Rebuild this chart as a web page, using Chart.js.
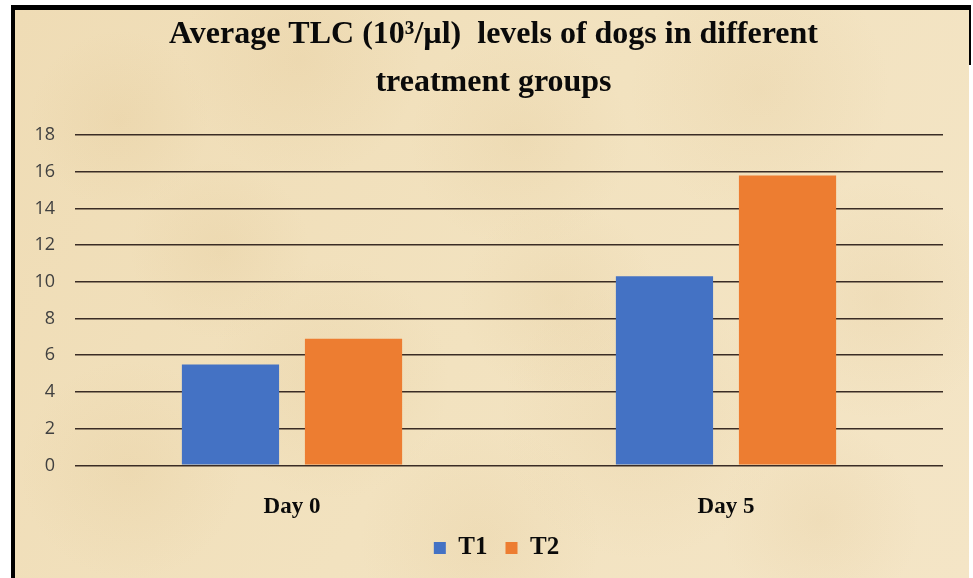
<!DOCTYPE html>
<html>
<head>
<meta charset="utf-8">
<script src="https://cdn.jsdelivr.net/npm/chart.js@4"></script>
<style>
  html, body { margin: 0; padding: 0; background: #ffffff; }
  #wrap { position: absolute; left: 0; top: 0; width: 973px; height: 578px; }
</style>
</head>
<body>
<div id="wrap"><canvas id="c" width="973" height="578"></canvas></div>
<script>
const categories = ["Day 0", "Day 5"];
const seriesNames = ["T1", "T2"];
const t1Values = [5.5, 10.3];
const t2Values = [6.9, 15.8];
const yTicks = [0, 2, 4, 6, 8, 10, 12, 14, 16, 18];
const titleLines = ["Average TLC (10\u00B3/\u00B5l)  levels of dogs in different", "treatment groups"];

const parchment = {
  id: 'parchment',
  beforeDraw(chart) {
    const ctx = chart.ctx;
    const W = chart.width, H = chart.height;
    ctx.save();
    ctx.fillStyle = '#ffffff';
    ctx.fillRect(0, 0, W, H);
    const g = ctx.createLinearGradient(15, 10, W, H);
    g.addColorStop(0, '#efdcb5');
    g.addColorStop(0.5, '#f2e2bf');
    g.addColorStop(1, '#f4e5c6');
    ctx.fillStyle = g;
    ctx.fillRect(15, 10, W - 19, H - 10);
    const blobs = [[120,120,90],[300,60,120],[520,140,110],[760,90,130],[880,300,120],[640,420,140],[330,380,120],[130,470,110],[480,540,120],[820,520,100],[220,250,90],[560,300,100]];
    blobs.forEach(b => {
      const rg = ctx.createRadialGradient(b[0], b[1], 0, b[0], b[1], b[2]);
      rg.addColorStop(0, 'rgba(214,180,120,0.14)');
      rg.addColorStop(1, 'rgba(214,180,120,0)');
      ctx.fillStyle = rg;
      ctx.fillRect(15, 10, W - 19, H - 10);
    });
    ctx.fillStyle = '#000000';
    ctx.fillRect(11, 5, 4, H - 5);
    ctx.fillRect(11, 5, W - 13, 5);
    ctx.fillRect(W - 4, 5, 2, 60);
    ctx.restore();
  }
};

// nudge title centre and legend row to match the reference layout
const placeBlocks = {
  id: 'placeBlocks',
  afterLayout(chart) {
    const t = chart.titleBlock;
    if (t) { t.left += 12; t.right += 12; }
    const lg = chart.legend;
    if (lg) {
      const targetTop = 548 - 18 - 12.5;
      const d = targetTop - lg.top;
      lg.top += d; lg.bottom += d;
      lg.left += 15; lg.right += 15;
    }
  }
};

new Chart(document.getElementById('c'), {
  type: 'bar',
  data: {
    labels: categories,
    datasets: [
      { label: seriesNames[0], data: t1Values, backgroundColor: '#4472C4', borderWidth: 0 },
      { label: seriesNames[1], data: t2Values, backgroundColor: '#ED7D31', borderWidth: 0 }
    ]
  },
  options: {
    responsive: false,
    animation: false,
    devicePixelRatio: 1,
    layout: { padding: { left: 20, right: 30, top: 0, bottom: -24 } },
    datasets: { bar: { categoryPercentage: 0.567, barPercentage: 0.79 } },
    plugins: {
      title: {
        display: true,
        text: titleLines,
        color: '#0a0a0a',
        font: { family: '"Liberation Serif", "Times New Roman", serif', size: 32, weight: 'bold', lineHeight: 1.5 },
        padding: { top: 11, bottom: 28 }
      },
      legend: {
        display: true,
        position: 'bottom',
        labels: {
          boxWidth: 12, boxHeight: 12,
          color: '#0a0a0a',
          padding: 18,
          font: { family: '"Liberation Serif", "Times New Roman", serif', size: 25, weight: 'bold' }
        }
      },
      tooltip: { enabled: false }
    },
    scales: {
      x: {
        grid: { display: false, drawTicks: false },
        border: { display: false },
        ticks: {
          color: '#0a0a0a',
          padding: 28,
          font: { family: '"Liberation Serif", "Times New Roman", serif', size: 23, weight: 'bold' }
        }
      },
      y: {
        min: 0, max: 18,
        afterBuildTicks(axis) { axis.ticks = yTicks.map(v => ({ value: v })); },
        afterFit(axis) { axis.width = 55; },
        grid: { color: '#3a2c25', lineWidth: 1.6, drawTicks: false },
        border: { display: false },
        ticks: {
          color: '#404040',
          padding: 20,
          font: { family: '"Open Sans", "Noto Sans", sans-serif', size: 18 }
        }
      }
    }
  },
  plugins: [parchment, placeBlocks]
});
</script>
</body>
</html>
